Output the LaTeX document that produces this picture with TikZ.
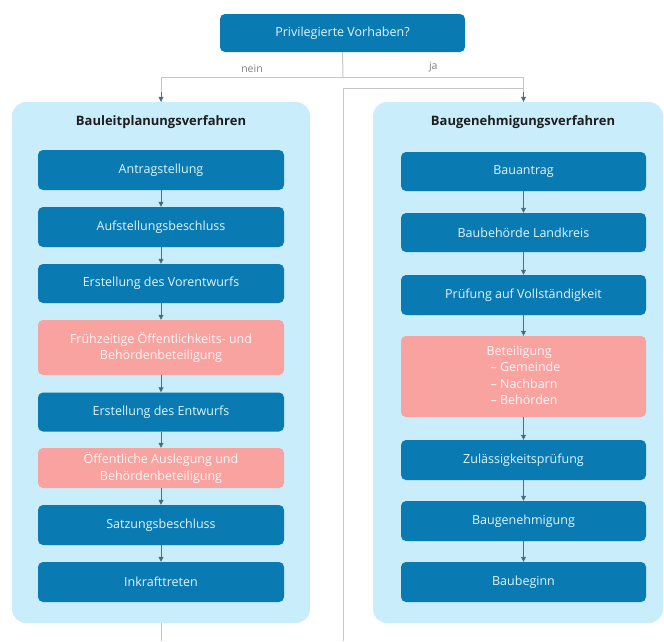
\documentclass[tikz,border=0pt]{standalone}
\usepackage{fontspec}
\setmainfont{Open Sans}
\usepackage{tikz}
\usetikzlibrary{positioning, calc, arrows.meta, shapes}
\definecolor{boxblue}{HTML}{0A7AB2}
\definecolor{boxpink}{HTML}{F8A3A0}
\definecolor{panel}{HTML}{C9EDFB}
\definecolor{flowgray}{HTML}{C8C4CC}
\definecolor{tipblue}{HTML}{2B6A83}
\definecolor{titledark}{HTML}{1E1E1E}
\tikzset{stepbox/.style={rectangle, rounded corners=5pt, fill=boxblue, text=white!88!cyan,
    minimum width=246pt, minimum height=40pt, font=\fontsize{12.5}{16.5}\selectfont, align=center}}
\tikzset{pinkbox/.style={stepbox, fill=boxpink, text=white!90!boxpink}}
\tikzset{panelbox/.style={rectangle, rounded corners=14pt, fill=panel, inner sep=0pt}}
\tikzset{paneltitle/.style={font=\fontsize{13}{15}\selectfont\bfseries, text=titledark}}
\tikzset{branchlabel/.style={above=1pt, text=gray, font=\fontsize{10.5}{12}\selectfont}}
\tikzset{flow/.style={draw=tipblue!60!gray, line width=0.8pt, -{Triangle[length=5pt,width=5pt,fill=tipblue]}}}
\tikzset{branch/.style={draw=flowgray, line width=1pt}}

\begin{document}
\begin{tikzpicture}[x=1pt, y=-1pt]
      \useasboundingbox (0,0) rectangle (664,641);

      % Verzweigung
      \node[stepbox, minimum width=245pt, minimum height=38pt] (frage) at (342.5,33) {Privilegierte Vorhaben?};
      \coordinate (split) at (343,77);
      \coordinate (ret) at (343,88);
      \coordinate (retend) at (343,641);

      % Bauleitplanung
      \node[panelbox, minimum width=298pt, minimum height=521pt] (blp) at (161,362.5) {};
      \node[paneltitle] (blptitle) at (161,122) {Bauleitplanungsverfahren};
      \node[stepbox] (l1) at (161,170) {Antragstellung};
      \node[stepbox] (l2) at (161,227) {Aufstellungsbeschluss};
      \node[stepbox, minimum height=39pt] (l3) at (161,283.5) {Erstellung des Vorentwurfs};
      \node[pinkbox, minimum height=55pt] (l4) at (161,347.5) {Frühzeitige Öffentlichkeits- und\\Behördenbeteiligung};
      \node[stepbox, minimum height=39pt] (l5) at (161,412) {Erstellung des Entwurfs};
      \node[pinkbox] (l6) at (161,468) {Öffentliche Auslegung und\\Behördenbeteiligung};
      \node[stepbox] (l7) at (161,525) {Satzungsbeschluss};
      \node[stepbox] (l8) at (161,582) {Inkrafttreten};
      \coordinate (blpend) at (161,641);

      % Baugenehmigung
      \node[panelbox, minimum width=290pt, minimum height=521pt] (bgv) at (518,362.5) {};
      \node[paneltitle] (bgvtitle) at (523,122) {Baugenehmigungsverfahren};
      \node[stepbox, minimum width=245pt, minimum height=39pt] (r1) at (523.5,171.5) {Bauantrag};
      \node[stepbox, minimum width=245pt, minimum height=39pt] (r2) at (523.5,232.5) {Baubehörde Landkreis};
      \node[stepbox, minimum width=245pt] (r3) at (523.5,295) {Prüfung auf Vollständigkeit};
      \node[pinkbox, minimum width=245pt, minimum height=81pt] (r4) at (523.5,376.5) {%
        \begin{tabular}{@{}l@{}}
          Beteiligung \\
          \hspace*{4pt}-- Gemeinde \\
          \hspace*{4pt}-- Nachbarn \\
          \hspace*{4pt}-- Behörden \\
        \end{tabular}};
      \node[stepbox, minimum width=245pt] (r5) at (523.5,460) {Zulässigkeitsprüfung};
      \node[stepbox, minimum width=245pt] (r6) at (523.5,521) {Baugenehmigung};
      \node[stepbox, minimum width=245pt] (r7) at (523.5,582) {Baubeginn};

      % Linien oben
      \draw[branch] (frage.south) -- (split);
      \draw[branch] (split) -- node[branchlabel] {nein} (split -| blp.north) -- (blp.north) ;
      \draw[branch] (split) -- node[branchlabel] {ja} (split -| r1.north) -- (r1.north |- bgv.north);
      \draw[branch] (retend) -- (ret) -- (ret -| r1.north);
      \draw[branch] (blp.south) -- (blpend);
      \draw[flow] ($(blp.north)+(0,-10)$) -- (blp.north);
      \draw[flow] ($(r1.north |- bgv.north)+(0,-10)$) -- (r1.north |- bgv.north);

      % Pfeile
      \foreach \a/\b in {l1/l2, l2/l3, l3/l4, l4/l5, l5/l6, l6/l7, l7/l8, r1/r2, r2/r3, r3/r4, r4/r5, r5/r6, r6/r7}
        \draw[flow] (\a.south) -- (\b.north);

    \end{tikzpicture}
\end{document}
